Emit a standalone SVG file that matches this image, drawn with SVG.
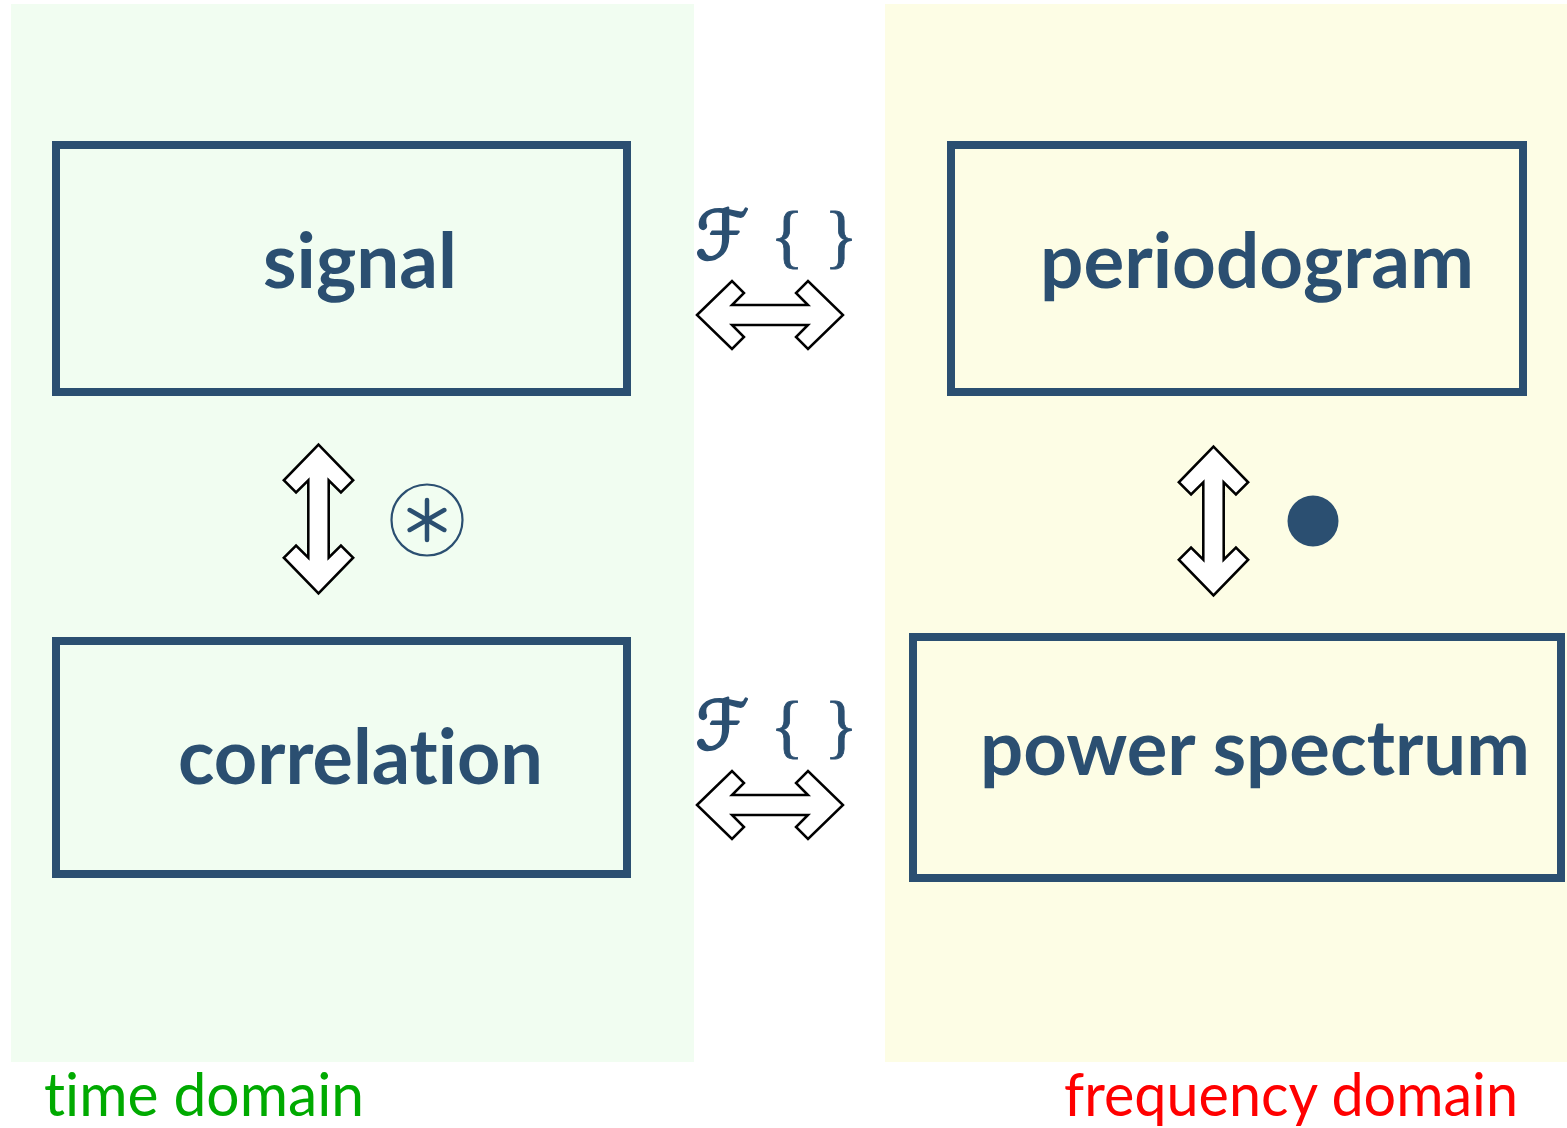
<svg xmlns="http://www.w3.org/2000/svg" xmlns:xlink="http://www.w3.org/1999/xlink" width="1567" height="1128" viewBox="0 0 1567 1128">
  <style>
    text { font-variant-ligatures: none; font-feature-settings: "liga" 0, "clig" 0; }
    .box { fill: none; stroke: #2b4f71; stroke-width: 8; }
    .lbl { font-family: Lato, "Open Sans", "DejaVu Sans", sans-serif; font-weight: 700; font-size: 76px; fill: #2b4f71; text-anchor: middle; }
    .dom { font-family: Lato, "Open Sans", "DejaVu Sans", sans-serif; font-size: 60px; }
    .arrow { fill: #ffffff; stroke: #000000; stroke-width: 2.5; stroke-linejoin: miter; }
    .fsym { font-family: "DejaVu Serif", "DejaVu Sans", serif; font-style: italic; font-size: 68px; fill: #2b4f71; stroke: #2b4f71; stroke-width: 2.2; stroke-linejoin: round; text-anchor: middle; }
    .brace { font-family: "Liberation Serif", serif; font-size: 70px; fill: #2b4f71; stroke: #2b4f71; stroke-width: 0.8; text-anchor: middle; }
    .op { stroke: #2b4f71; fill: none; }
  </style>
  <defs>
    <path id="dblarrow" d="M -73 0 L -38 -34 L -26 -22 L -38 -10 L 38 -10 L 26 -22 L 38 -34 L 73 0 L 38 34 L 26 22 L 38 10 L -38 10 L -26 22 L -38 34 Z"/>
  </defs>

  <g id="panel-time">
    <rect x="11" y="4" width="683" height="1058" fill="#f1fdf1"/>
    <text class="dom" x="204" y="1116" text-anchor="middle" fill="#00aa00" textLength="320" lengthAdjust="spacingAndGlyphs">time domain</text>
  </g>
  <g id="panel-frequency">
    <rect x="885" y="4" width="682" height="1058" fill="#fdfde5"/>
    <text class="dom" x="1291" y="1116" text-anchor="middle" fill="#ff0000" textLength="454" lengthAdjust="spacingAndGlyphs">frequency domain</text>
  </g>

  <g id="node-signal">
    <rect class="box" x="56" y="145" width="571" height="247"/>
    <text class="lbl" x="360" y="288" textLength="194" lengthAdjust="spacingAndGlyphs">signal</text>
  </g>
  <g id="node-correlation">
    <rect class="box" x="56" y="641" width="571" height="233"/>
    <text class="lbl" x="360.5" y="784" textLength="365" lengthAdjust="spacingAndGlyphs">correlation</text>
  </g>
  <g id="node-periodogram">
    <rect class="box" x="951" y="145" width="572" height="247"/>
    <text class="lbl" x="1257" y="288" textLength="434" lengthAdjust="spacingAndGlyphs">periodogram</text>
  </g>
  <g id="node-power-spectrum">
    <rect class="box" x="913" y="637" width="648" height="241"/>
    <text class="lbl" x="1255" y="775" textLength="550" lengthAdjust="spacingAndGlyphs">power spectrum</text>
  </g>

  <g id="connectors">
    <g id="conn-signal-periodogram">
      <use xlink:href="#dblarrow" class="arrow" transform="translate(770,315)"/>
      <text class="fsym" x="722" y="259">ℱ</text>
      <text class="brace" x="787" y="260">{</text>
      <text class="brace" x="841" y="260">}</text>
    </g>
    <g id="conn-correlation-power">
      <use xlink:href="#dblarrow" class="arrow" transform="translate(770,805)"/>
      <text class="fsym" x="722" y="749">ℱ</text>
      <text class="brace" x="787" y="750">{</text>
      <text class="brace" x="841" y="750">}</text>
    </g>
    <g id="conn-signal-correlation">
      <use xlink:href="#dblarrow" class="arrow" transform="translate(318.5,519) rotate(90) scale(1.02,1.02)"/>
      <circle class="op" cx="427" cy="520" r="35.5" stroke-width="2.2"/>
      <g class="op" stroke-width="4.5" stroke-linecap="round" transform="translate(427,520)">
        <line x1="0" y1="-20" x2="0" y2="20"/>
        <line x1="-17.3" y1="-10" x2="17.3" y2="10"/>
        <line x1="-17.3" y1="10" x2="17.3" y2="-10"/>
      </g>
    </g>
    <g id="conn-periodogram-power">
      <use xlink:href="#dblarrow" class="arrow" transform="translate(1213.5,521) rotate(90) scale(1.02,1.02)"/>
      <circle cx="1313" cy="521" r="25.5" fill="#2b4f71"/>
    </g>
  </g>
</svg>
